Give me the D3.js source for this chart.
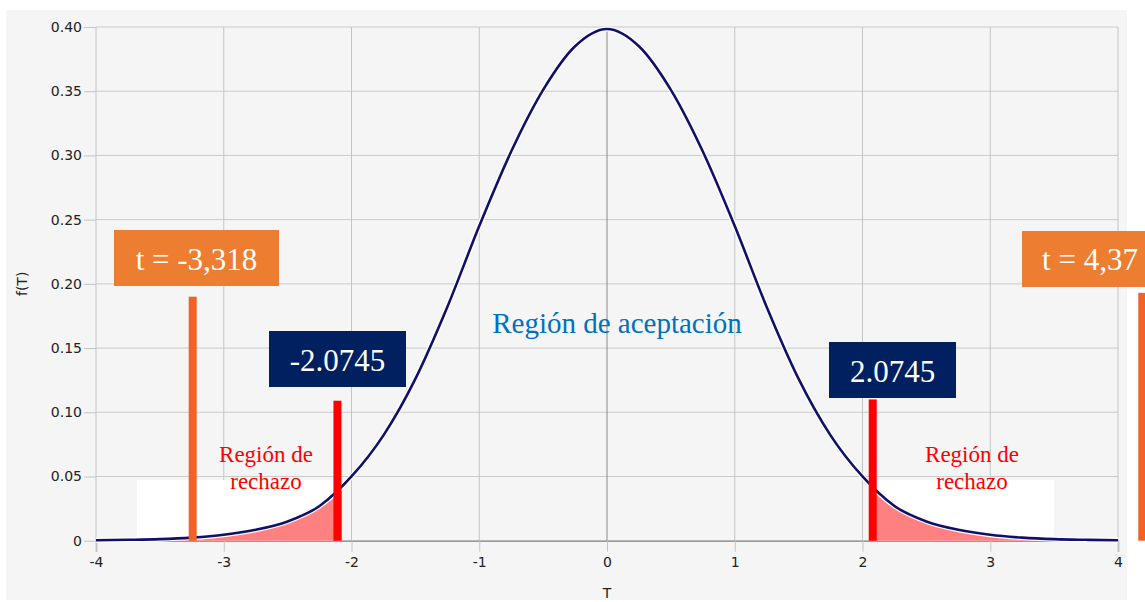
<!DOCTYPE html>
<html>
<head>
<meta charset="utf-8">
<script src="https://cdn.jsdelivr.net/npm/d3@7"></script>
<style>
  body { margin: 0; background: #fff; }
  svg { display: block; }
</style>
</head>
<body>
<div id="chart"></div>
<script>
// Curve: T values and f(T)
const tValues = [-4, -3.75, -3.5, -3.25, -3, -2.75, -2.5, -2.25, -2, -1.75, -1.5, -1.25, -1, -0.75, -0.5, -0.25,
                 0, 0.25, 0.5, 0.75, 1, 1.25, 1.5, 1.75, 2, 2.25, 2.5, 2.75, 3, 3.25, 3.5, 3.75, 4];
const fValues = [0.0004, 0.0007, 0.0012, 0.0024, 0.0046, 0.0085, 0.0150, 0.0270, 0.0500, 0.0820, 0.1260, 0.1820, 0.2450, 0.3030, 0.3510, 0.3850,
                 0.3985, 0.3850, 0.3510, 0.3030, 0.2450, 0.1820, 0.1260, 0.0820, 0.0500, 0.0270, 0.0150, 0.0085, 0.0046, 0.0024, 0.0012, 0.0007, 0.0004];

const xTicks = [-4, -3, -2, -1, 0, 1, 2, 3, 4];
const yTicks = [0, 0.05, 0.10, 0.15, 0.20, 0.25, 0.30, 0.35, 0.40];

// shaded rejection tails (T ranges)
const tailRanges = [[-3.5, -2.0745], [2.0745, 3.5]];

// vertical markers: position on T, height on f(T)
const criticalBars = [{t: -2.11, top: 0.109}, {t: 2.08, top: 0.110}];
const statBars = [{t: -3.243, top: 0.19}, {t: 4.19, top: 0.193}];

const width = 1145, height = 602;
const margin = {top: 27, right: 27, bottom: 61.3, left: 96};

const svg = d3.select('#chart').append('svg')
    .attr('width', width)
    .attr('height', height);

const x = d3.scaleLinear().domain([-4, 4]).range([margin.left, width - margin.right]);
const y = d3.scaleLinear().domain([0, 0.4]).range([height - margin.bottom, margin.top]);

// chart panel background
svg.append('rect')
    .attr('x', 6).attr('y', 10)
    .attr('width', 1121).attr('height', 590)
    .attr('fill', '#f5f5f5');

// Grid lines
svg.append('g')
    .selectAll('line')
    .data(yTicks)
    .join('line')
    .attr('x1', margin.left).attr('x2', width - margin.right)
    .attr('y1', d => y(d)).attr('y2', d => y(d))
    .attr('stroke', '#cbcbcb').attr('stroke-width', 1);

svg.append('g')
    .selectAll('line')
    .data(xTicks)
    .join('line')
    .attr('x1', d => x(d)).attr('x2', d => x(d))
    .attr('y1', y(0.4)).attr('y2', y(0))
    .attr('stroke', d => d === 0 ? '#8a8a8a' : '#c4c4c4').attr('stroke-width', 1);

// X axis
svg.append('g')
    .attr('transform', `translate(0,${y(0)})`)
    .call(d3.axisBottom(x).tickValues(xTicks).tickSize(11).tickPadding(5).tickFormat(d => String(d)))
    .call(g => g.select('.domain').attr('stroke', '#9a9a9a').attr('stroke-width', 1.5))
    .call(g => g.selectAll('.tick line').attr('stroke', '#c4c4c4'))
    .call(g => g.selectAll('text')
        .attr('font-family', 'DejaVu Sans, sans-serif')
        .attr('font-size', '14px')
        .attr('fill', '#222'));

// Y axis
svg.append('g')
    .attr('transform', `translate(${margin.left},0)`)
    .call(d3.axisLeft(y).tickValues(yTicks).tickSize(12).tickPadding(2)
        .tickFormat(d => d === 0 ? '0' : d.toFixed(2)))
    .call(g => g.select('.domain').remove())
    .call(g => g.selectAll('.tick line').attr('stroke', '#c4c4c4'))
    .call(g => g.selectAll('text')
        .attr('font-family', 'DejaVu Sans, sans-serif')
        .attr('font-size', '14px')
        .attr('fill', '#222'));

// Axis titles
svg.append('text')
    .attr('x', x(0)).attr('y', 598)
    .attr('text-anchor', 'middle')
    .attr('font-family', 'DejaVu Sans, sans-serif')
    .attr('font-size', '14px')
    .attr('fill', '#222')
    .text('T');

svg.append('text')
    .attr('transform', `translate(27,${(y(0) + y(0.4)) / 2}) rotate(-90)`)
    .attr('text-anchor', 'middle')
    .attr('font-family', 'DejaVu Sans, sans-serif')
    .attr('font-size', '14px')
    .attr('fill', '#222')
    .text('f(T)');

// white boxes behind "Región de rechazo"
svg.append('rect')
    .attr('x', 137).attr('y', 480).attr('width', 196).attr('height', y(0) - 480)
    .attr('fill', '#fff');
svg.append('rect')
    .attr('x', 877).attr('y', 480).attr('width', 177).attr('height', y(0) - 480)
    .attr('fill', '#fff');

const curveData = tValues.map((t, i) => ({t, f: fValues[i]}));

// Tail fills
const defs = svg.append('defs');
tailRanges.forEach((r, i) => {
    defs.append('clipPath').attr('id', 'tail' + i)
        .append('rect')
        .attr('x', x(r[0])).attr('y', 0)
        .attr('width', x(r[1]) - x(r[0])).attr('height', height);
    svg.append('path')
        .datum(curveData)
        .attr('clip-path', `url(#tail${i})`)
        .attr('fill', '#ff8080')
        .attr('d', d3.area().x(d => x(d.t)).y0(y(0)).y1(d => y(d.f)).curve(d3.curveMonotoneX));
});

// Curve with white halo
const line = d3.line().x(d => x(d.t)).y(d => y(d.f)).curve(d3.curveMonotoneX);
svg.append('path').datum(curveData)
    .attr('fill', 'none').attr('stroke', '#fff').attr('stroke-width', 5)
    .attr('d', line);
svg.append('path').datum(curveData)
    .attr('fill', 'none').attr('stroke', '#10106a').attr('stroke-width', 2.6)
    .attr('d', line);

// Marker bars
svg.append('g')
    .selectAll('rect')
    .data(criticalBars)
    .join('rect')
    .attr('x', d => x(d.t) - 4).attr('width', 8)
    .attr('y', d => y(d.top)).attr('height', d => y(0) - y(d.top))
    .attr('fill', '#ff0000');

svg.append('g')
    .selectAll('rect')
    .data(statBars)
    .join('rect')
    .attr('x', d => x(d.t) - 4).attr('width', 8)
    .attr('y', d => y(d.top)).attr('height', d => y(0) - y(d.top))
    .attr('fill', '#f26126');

// Label boxes
const labels = [
    {text: 't = -3,318', x: 114, y: 230, w: 165, h: 56, fill: '#ed7d31', tx: 196.5, ty: 270},
    {text: '-2.0745', x: 269, y: 331, w: 137, h: 56, fill: '#002060', tx: 337.5, ty: 371},
    {text: '2.0745', x: 829, y: 342, w: 127, h: 56, fill: '#002060', tx: 892.5, ty: 382},
    {text: 't = 4,37', x: 1022, y: 231, w: 140, h: 56, fill: '#ed7d31', tx: 1090, ty: 270}
];
labels.forEach(l => {
    svg.append('rect')
        .attr('x', l.x).attr('y', l.y).attr('width', l.w).attr('height', l.h)
        .attr('fill', l.fill);
    svg.append('text')
        .attr('x', l.tx).attr('y', l.ty)
        .attr('text-anchor', 'middle')
        .attr('font-family', 'Liberation Serif, Times New Roman, serif')
        .attr('font-size', '31px')
        .attr('fill', '#fff')
        .text(l.text);
});

// Region texts
svg.append('text')
    .attr('x', 617).attr('y', 333)
    .attr('text-anchor', 'middle')
    .attr('font-family', 'Liberation Serif, Times New Roman, serif')
    .attr('font-size', '29px')
    .attr('fill', '#0070c0')
    .text('Región de aceptación');

[266, 972].forEach(cx => {
    const t = svg.append('text')
        .attr('text-anchor', 'middle')
        .attr('font-family', 'Liberation Serif, Times New Roman, serif')
        .attr('font-size', '23px')
        .attr('fill', '#ff0000');
    t.append('tspan').attr('x', cx).attr('y', 462).text('Región de');
    t.append('tspan').attr('x', cx).attr('y', 489).text('rechazo');
});
</script>
</body>
</html>
